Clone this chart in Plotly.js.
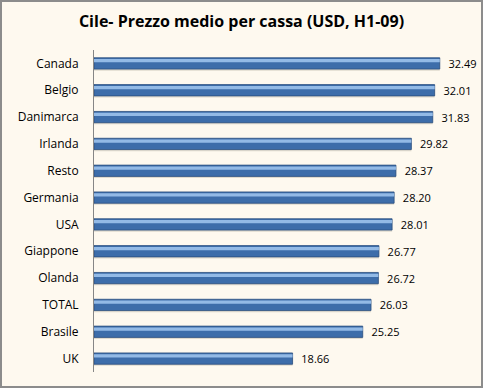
<!DOCTYPE html>
<html><head><meta charset="utf-8">
<script src="https://cdn.plot.ly/plotly-3.0.1.min.js"></script>
<style>html,body{margin:0;padding:0;background:#FEF9EF;}#wrap{position:relative;width:483px;height:388px;}#frame{position:absolute;left:0;top:0;width:483px;height:388px;box-sizing:border-box;border:2px solid #8c8c8c;pointer-events:none;}</style>
</head><body>
<div id="wrap"><div id="chart" style="width:483px;height:388px;"></div><div id="frame"></div></div>
<script>
const categories = ["Canada","Belgio","Danimarca","Irlanda","Resto","Germania","USA","Giappone","Olanda","TOTAL","Brasile","UK"];
const values = [32.49,32.01,31.83,29.82,28.37,28.20,28.01,26.77,26.72,26.03,25.25,18.66];
const labels = values.map(v => v.toFixed(2));

const barW = 0.42;
const traces = [
  {type:'bar', orientation:'h', y:categories, x:values, width:barW, offset:-barW/2+0.06,
   marker:{color:'rgba(120,110,90,0.22)'}, hoverinfo:'skip', showlegend:false},
  {type:'bar', orientation:'h', y:categories, x:values, width:barW, offset:-barW/2,
   marker:{color:'#3D6DAA', line:{color:'#2B4E7D', width:0.8}},
   text:labels, texttemplate:'\u00a0\u00a0%{text}', textposition:'outside', cliponaxis:false, constraintext:'none',
   textfont:{family:'Open Sans, sans-serif', size:11, color:'#000'}, showlegend:false},
  {type:'bar', orientation:'h', y:categories, x:values, width:0.12, offset:-barW/2+0.05,
   marker:{color:'#93BAE6'}, hoverinfo:'skip', showlegend:false}
];
const layout = {
  width:483, height:388,
  paper_bgcolor:'#FEF9EF', plot_bgcolor:'#FEF9EF',
  margin:{l:94, r:8, t:50, b:16},
  barmode:'overlay',
  title:{text:'<b>Cile- Prezzo medio per cassa (USD, H1-09)</b>', x:0.5, xanchor:'center', y:0.945, yanchor:'middle',
         font:{family:'Open Sans, sans-serif', size:16, color:'#000'}},
  xaxis:{range:[0,35.8], showgrid:false, zeroline:false, showticklabels:false, showline:false, fixedrange:true},
  yaxis:{type:'category', autorange:'reversed', showgrid:false, zeroline:false, showline:true, linecolor:'#868686', linewidth:1,
         ticks:'', ticklabelstandoff:12, tickfont:{family:'Open Sans, sans-serif', size:12, color:'#000'}},
  font:{family:'Open Sans, sans-serif'}
};
Plotly.newPlot('chart', traces, layout, {displayModeBar:false, staticPlot:true});
</script>
</body></html>
